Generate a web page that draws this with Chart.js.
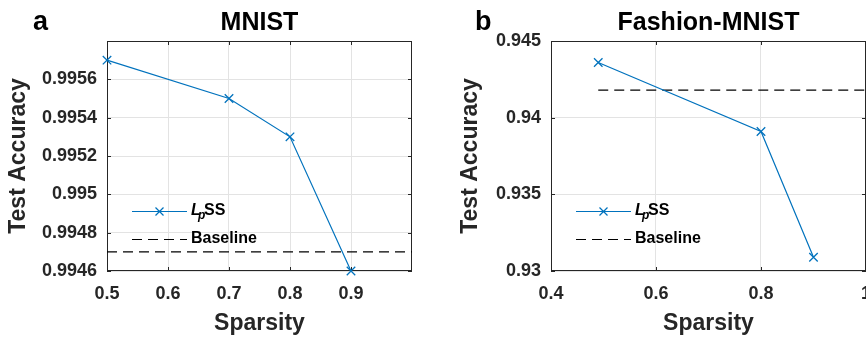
<!DOCTYPE html>
<html>
<head>
<meta charset="utf-8">
<script src="https://cdn.jsdelivr.net/npm/chart.js@4"></script>
<style>
  html, body { margin: 0; padding: 0; background: #fff; overflow: hidden; }
  #wrap { position: relative; width: 866px; height: 340px; overflow: hidden; }
  #chartA { position: absolute; left: 0; top: 0; }
  #chartB { position: absolute; left: 433px; top: 0; }
</style>
</head>
<body>
<div id="wrap">
  <canvas id="chartA" width="433" height="340"></canvas>
  <canvas id="chartB" width="450" height="340"></canvas>
</div>
<script>
// Panel a - MNIST
const sparsityA = [0.5, 0.7, 0.8, 0.9];
const accuracyA = [0.9957, 0.9955, 0.9953, 0.9946];
const baselineA = 0.9947;
const baselineSpanA = [0.5, 1.0];
const xTicksA = [0.5, 0.6, 0.7, 0.8, 0.9];
const yTicksA = [0.9946, 0.9948, 0.995, 0.9952, 0.9954, 0.9956];

// Panel b - Fashion-MNIST
const sparsityB = [0.49, 0.8, 0.9];
const accuracyB = [0.9436, 0.9391, 0.9309];
const baselineB = 0.9418;
const baselineSpanB = [0.49, 1.0];
const xTicksB = [0.4, 0.6, 0.8, 1.0];
const yTicksB = [0.93, 0.935, 0.94, 0.945];

const BLUE = '#0072BD';
const AXIS = '#262626';
const FONT = '"Liberation Sans", Arial, Helvetica, sans-serif';

const fmt = v => String(parseFloat(Number(v).toFixed(4)));

// draws the box, inner tick marks, title, panel letter and the in-plot legend
const decor = {
  id: 'decor',
  beforeDatasetsDraw(chart) {
    const { ctx, chartArea: a, scales: { x, y } } = chart;
    ctx.save();
    ctx.strokeStyle = AXIS;
    ctx.lineWidth = 1;
    ctx.beginPath();
    x.ticks.forEach(t => {
      const px = Math.round(x.getPixelForValue(t.value)) + 0.5;
      ctx.moveTo(px, a.bottom); ctx.lineTo(px, a.bottom - 4);
      ctx.moveTo(px, a.top); ctx.lineTo(px, a.top + 4);
    });
    y.ticks.forEach(t => {
      const py = Math.round(y.getPixelForValue(t.value)) + 0.5;
      ctx.moveTo(a.left, py); ctx.lineTo(a.left + 4, py);
      ctx.moveTo(a.right, py); ctx.lineTo(a.right - 4, py);
    });
    ctx.stroke();
    ctx.strokeRect(Math.round(a.left) + 0.5, Math.round(a.top) + 0.5,
      Math.round(a.right - a.left) - 1, Math.round(a.bottom - a.top) - 1);
    ctx.restore();
  },
  afterDraw(chart, args, opts) {
    const { ctx, chartArea: a } = chart;
    ctx.save();
    ctx.fillStyle = '#000';
    ctx.textBaseline = 'alphabetic';

    // panel letter
    ctx.font = 'bold 27px ' + FONT;
    ctx.textAlign = 'left';
    ctx.fillText(opts.letter, opts.letterX, 30);

    // title centred over the axes
    ctx.font = 'bold 25px ' + FONT;
    ctx.textAlign = 'center';
    ctx.fillText(opts.title, (a.left + a.right) / 2, 30);

    // legend
    const lx = a.left + 25, lw = 55, tx = a.left + 84;
    const rows = [a.top + 170, a.top + 198];
    const ds = chart.data.datasets;

    ctx.lineWidth = 1.2;
    ctx.strokeStyle = ds[0].borderColor;
    ctx.beginPath();
    ctx.moveTo(lx, rows[0] + 0.5); ctx.lineTo(lx + lw, rows[0] + 0.5);
    const mx = lx + lw / 2, my = rows[0] + 0.5, r = 4;
    ctx.moveTo(mx - r, my - r); ctx.lineTo(mx + r, my + r);
    ctx.moveTo(mx - r, my + r); ctx.lineTo(mx + r, my - r);
    ctx.stroke();

    ctx.strokeStyle = ds[1].borderColor;
    ctx.lineWidth = ds[1].borderWidth;
    ctx.setLineDash(ds[1].borderDash);
    ctx.beginPath();
    ctx.moveTo(lx, rows[1] + 0.5); ctx.lineTo(lx + lw, rows[1] + 0.5);
    ctx.stroke();
    ctx.setLineDash([]);

    ctx.textAlign = 'left';
    ctx.textBaseline = 'middle';
    ctx.fillStyle = '#000';
    ctx.font = 'italic bold 16px ' + FONT;
    ctx.fillText('L', tx, rows[0]);
    ctx.font = 'italic bold 12px ' + FONT;
    ctx.fillText('p', tx + 7, rows[0] + 5);
    ctx.font = 'bold 16px ' + FONT;
    ctx.fillText('SS', tx + 13, rows[0]);
    ctx.fillText('Baseline', tx, rows[1]);
    ctx.restore();
  }
};

function makeChart(id, cfg) {
  return new Chart(document.getElementById(id), {
    type: 'line',
    data: {
      datasets: [
        {
          label: 'LpSS',
          data: cfg.xs.map((v, i) => ({ x: v, y: cfg.ys[i] })),
          borderColor: BLUE,
          backgroundColor: BLUE,
          borderWidth: 1.2,
          pointStyle: 'crossRot',
          pointRadius: 6,
          pointBorderWidth: 1.3,
          pointBorderColor: BLUE,
          tension: 0,
          clip: false
        },
        {
          label: 'Baseline',
          data: cfg.span.map(v => ({ x: v, y: cfg.base })),
          borderColor: '#000',
          borderWidth: 1.2,
          borderDash: [10, 6],
          pointRadius: 0,
          tension: 0,
          clip: false
        }
      ]
    },
    options: {
      responsive: false,
      animation: false,
      devicePixelRatio: 1,
      layout: { padding: { top: 41, right: cfg.padRight, left: 0, bottom: 0 } },
      plugins: {
        legend: { display: false },
        title: { display: false },
        tooltip: { enabled: false },
        decor: { title: cfg.title, letter: cfg.letter, letterX: cfg.letterX }
      },
      scales: {
        x: {
          type: 'linear',
          min: cfg.xMin, max: cfg.xMax,
          afterBuildTicks: s => { s.ticks = cfg.xTicks.map(v => ({ value: v })); },
          afterFit: s => { s.height = 69; },
          grid: { color: '#e3e3e3', drawTicks: false },
          border: { display: false },
          ticks: {
            padding: 12, color: AXIS, maxRotation: 0, autoSkip: false,
            font: { family: FONT, size: 18, weight: 'bold' },
            callback: v => fmt(v)
          },
          title: {
            display: true, text: 'Sparsity', color: AXIS,
            font: { family: FONT, size: 23, weight: 'bold' },
            padding: { top: 0, bottom: 3 }
          }
        },
        y: {
          type: 'linear',
          min: cfg.yMin, max: cfg.yMax,
          afterBuildTicks: s => { s.ticks = cfg.yTicks.map(v => ({ value: v })); },
          afterFit: s => { s.width = cfg.yWidth; },
          grid: { color: '#e3e3e3', drawTicks: false },
          border: { display: false },
          ticks: {
            padding: 10, color: AXIS, autoSkip: false,
            font: { family: FONT, size: 18, weight: 'bold' },
            callback: v => fmt(v)
          },
          title: {
            display: true, text: 'Test Accuracy', color: AXIS,
            font: { family: FONT, size: 23, weight: 'bold' },
            padding: { top: cfg.yTitlePad, bottom: 0 }
          }
        }
      }
    },
    plugins: [decor]
  });
}

makeChart('chartA', {
  xs: sparsityA, ys: accuracyA, base: baselineA, span: baselineSpanA,
  xMin: 0.5, xMax: 1.0, yMin: 0.9946, yMax: 0.9958,
  xTicks: xTicksA, yTicks: yTicksA,
  yWidth: 107, padRight: 21, yTitlePad: 4.5,
  title: 'MNIST', letter: 'a', letterX: 33
});

makeChart('chartB', {
  xs: sparsityB, ys: accuracyB, base: baselineB, span: baselineSpanB,
  xMin: 0.4, xMax: 1.0, yMin: 0.93, yMax: 0.945,
  xTicks: xTicksB, yTicks: yTicksB,
  yWidth: 118, padRight: 17, yTitlePad: 24,
  title: 'Fashion-MNIST', letter: 'b', letterX: 42
});
</script>
</body>
</html>
